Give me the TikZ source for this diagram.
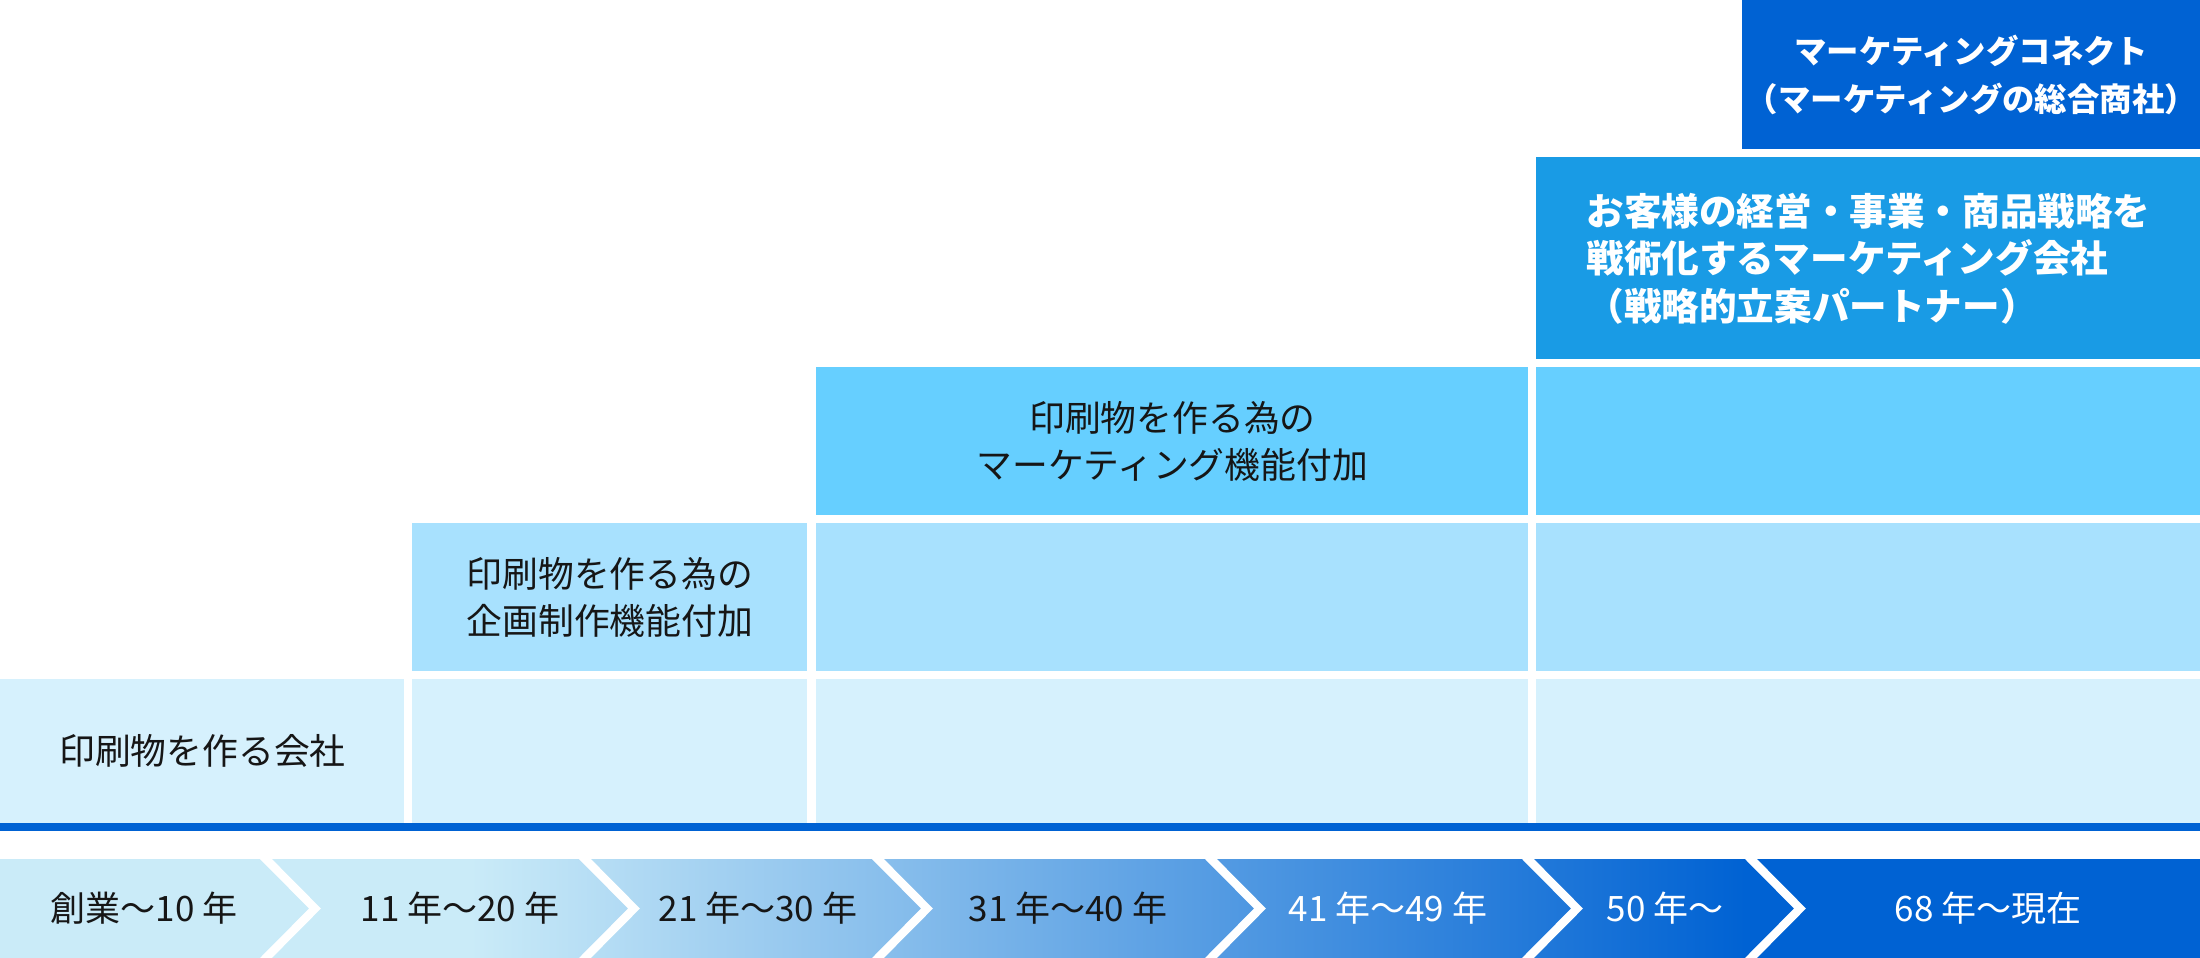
\documentclass[tikz,border=0pt]{standalone}
\usepackage{fontspec}
\usepackage{tikz}
\usetikzlibrary{positioning}
\newfontfamily\jpfont{Noto Sans CJK JP}
\definecolor{DeepBlue}{RGB}{0,98,211}
\definecolor{MidBlue}{RGB}{25,155,229}
\definecolor{SkyBlue}{RGB}{102,207,255}
\definecolor{PaleBlue}{RGB}{168,225,254}
\definecolor{LiteBlue}{RGB}{214,241,253}
\definecolor{BandBlue}{RGB}{202,235,248}
\definecolor{Ink}{RGB}{22,22,22}
\tikzset{%
  stage_block/.style={%
    rectangle,%
    anchor=north west,%
    inner sep=0pt,%
    align=center,%
    text=Ink,%
    font={\jpfont\fontsize{17.9}{23.5}\selectfont},%
  },
  top_block/.style={%
    stage_block,%
    text=white,%
    font={\jpfont\bfseries\fontsize{18.8}{23.7}\selectfont},%
  },
  year_label/.style={%
    inner sep=0pt,%
    text=Ink,%
    font={\jpfont\fontsize{17.5}{20}\selectfont},%
  },
  chevron_gap/.style={%
    draw=white,%
    line width=4.2pt,%
    miter limit=10,%
  },
}

\begin{document}
\begin{tikzpicture}[x=0.5pt, y=-0.5pt]

    \useasboundingbox (0,0) rectangle (2200,958);

    % stages
    \node [top_block, fill=DeepBlue, minimum width=229pt, minimum height=74.5pt,
      font={\jpfont\bfseries\fontsize{16.2}{24}\selectfont}] (connect) at (1742,0) {%
      マーケティングコネクト\\（マーケティングの総合商社）%
    };
    \node [top_block, fill=MidBlue, minimum width=332pt, minimum height=101pt,
      align=left] (strategy) at (1536,157) {%
      お客様の経営・事業・商品戦略を\\戦術化するマーケティング会社\\（戦略的立案パートナー）%
    };

    \node [stage_block, fill=SkyBlue, minimum width=356pt, minimum height=74pt] (marketing) at (816,367) {%
      印刷物を作る為の\\マーケティング機能付加%
    };
    \node [stage_block, fill=SkyBlue, minimum width=332pt, minimum height=74pt] (marketing_now) at (1536,367) {};

    \node [stage_block, fill=PaleBlue, minimum width=197.5pt, minimum height=74pt] (planning) at (412,523) {%
      印刷物を作る為の\\企画制作機能付加%
    };
    \node [stage_block, fill=PaleBlue, minimum width=356pt, minimum height=74pt] (planning_mid) at (816,523) {};
    \node [stage_block, fill=PaleBlue, minimum width=332pt, minimum height=74pt] (planning_now) at (1536,523) {};

    \node [stage_block, fill=LiteBlue, minimum width=202pt, minimum height=72pt] (printing) at (0,679) {%
      \raisebox{-4.5pt}{印刷物を作る会社}%
    };
    \node [stage_block, fill=LiteBlue, minimum width=197.5pt, minimum height=72pt] (printing_early) at (412,679) {};
    \node [stage_block, fill=LiteBlue, minimum width=356pt, minimum height=72pt] (printing_mid) at (816,679) {};
    \node [stage_block, fill=LiteBlue, minimum width=332pt, minimum height=72pt] (printing_now) at (1536,679) {};

    \fill [DeepBlue] (0,823) rectangle (2200,831);

    % time line
    \fill [BandBlue] (0,859) rectangle (471,958);
    \shade [left color=BandBlue, right color=DeepBlue] (470,859) rectangle (1746,958);
    \fill [DeepBlue] (1745,859) rectangle (2200,958);

    \draw [chevron_gap] (256,849) -- (315,908.5) -- (256,968);
    \draw [chevron_gap] (575,849) -- (634,908.5) -- (575,968);
    \draw [chevron_gap] (868,849) -- (927,908.5) -- (868,968);
    \draw [chevron_gap] (1201,849) -- (1260,908.5) -- (1201,968);
    \draw [chevron_gap] (1518,849) -- (1577,908.5) -- (1518,968);
    \draw [chevron_gap] (1741,849) -- (1800,908.5) -- (1741,968);

    \node [year_label] (years_1) at (144,908) {創業〜10 年};
    \node [year_label] (years_2) at (460,908) {11 年〜20 年};
    \node [year_label] (years_3) at (758,908) {21 年〜30 年};
    \node [year_label] (years_4) at (1068,908) {31 年〜40 年};
    \node [year_label, text=white] (years_5) at (1388,908) {41 年〜49 年};
    \node [year_label, text=white] (years_6) at (1665,908) {50 年〜};
    \node [year_label, text=white] (years_7) at (1988,908) {68 年〜現在};
  \end{tikzpicture}
\end{document}
